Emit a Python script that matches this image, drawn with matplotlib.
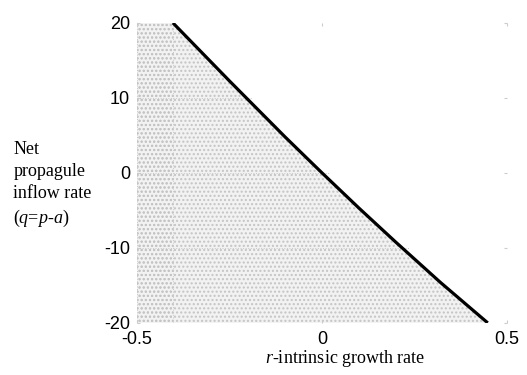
import matplotlib.pyplot as plt

plt.rcParams['mathtext.fontset'] = 'custom'
plt.rcParams['mathtext.it'] = 'Liberation Serif:italic'
plt.rcParams['mathtext.rm'] = 'Liberation Serif'

# boundary line (slightly bowed)
r_line = [-0.403, -0.25, -0.1, 0.0, 0.1, 0.2, 0.32, 0.448]
q_line = [20, 12.25, 4.8, 0, -4.7, -9.26, -14.6, -20]

x_ticks = [-0.5, 0, 0.5]
x_labels = ['-0.5', '0', '0.5']
y_ticks = [-20, -10, 0, 10, 20]
y_labels = ['-20', '-10', '0', '10', '20']

fig = plt.figure(figsize=(5.27, 3.75), dpi=100)
ax = fig.add_axes([0.26, 0.139, 0.702, 0.8])

# stippled region left of the line
ax.fill_betweenx(q_line, -0.5, r_line, facecolor='#f2f2f2', edgecolor='#c4c4c4',
                 hatch='....', linewidth=0)
ax.fill_betweenx([-20, 20], -0.5, r_line[0], facecolor='none', edgecolor='#c4c4c4',
                 hatch='....', linewidth=0)
for y in [10, 0, -10]:
    ax.plot([-0.5, r_line[0] + (20 - y) / 40 * (r_line[-1] - r_line[0])], [y, y],
            color='#c8c8c8', lw=0.7, ls=':')
ax.axvline(r_line[0], color='#c8c8c8', lw=0.7, ls=':')
ax.axvline(-0.5, color='#c8c8c8', lw=0.7, ls=':')

ax.plot(r_line, q_line, color='black', lw=2.3, solid_capstyle='butt')

ax.set_xlim(-0.5, 0.5)
ax.set_ylim(-20, 20)
ax.set_xticks(x_ticks)
ax.set_xticklabels(x_labels, fontfamily='Liberation Sans', fontsize=13)
ax.set_yticks(y_ticks)
ax.set_yticklabels(y_labels, fontfamily='Liberation Sans', fontsize=13)
ax.tick_params(axis='x', length=0, pad=6)
ax.tick_params(axis='y', length=0, pad=5)
ax.tick_params(right=True, top=True, direction='in', length=2, color='#cccccc')
for s in ax.spines.values():
    s.set_visible(False)

fig.text(0.025, 0.507, 'Net\npropagule\ninflow rate\n($q$=$p$-$a$)', ha='left', va='center',
         fontfamily='Liberation Serif', fontsize=13, linespacing=1.4)
fig.text(0.655, 0.045, '$r$-intrinsic growth rate', ha='center', va='center',
         fontfamily='Liberation Serif', fontsize=13)

fig.savefig('out.png', dpi=100)
